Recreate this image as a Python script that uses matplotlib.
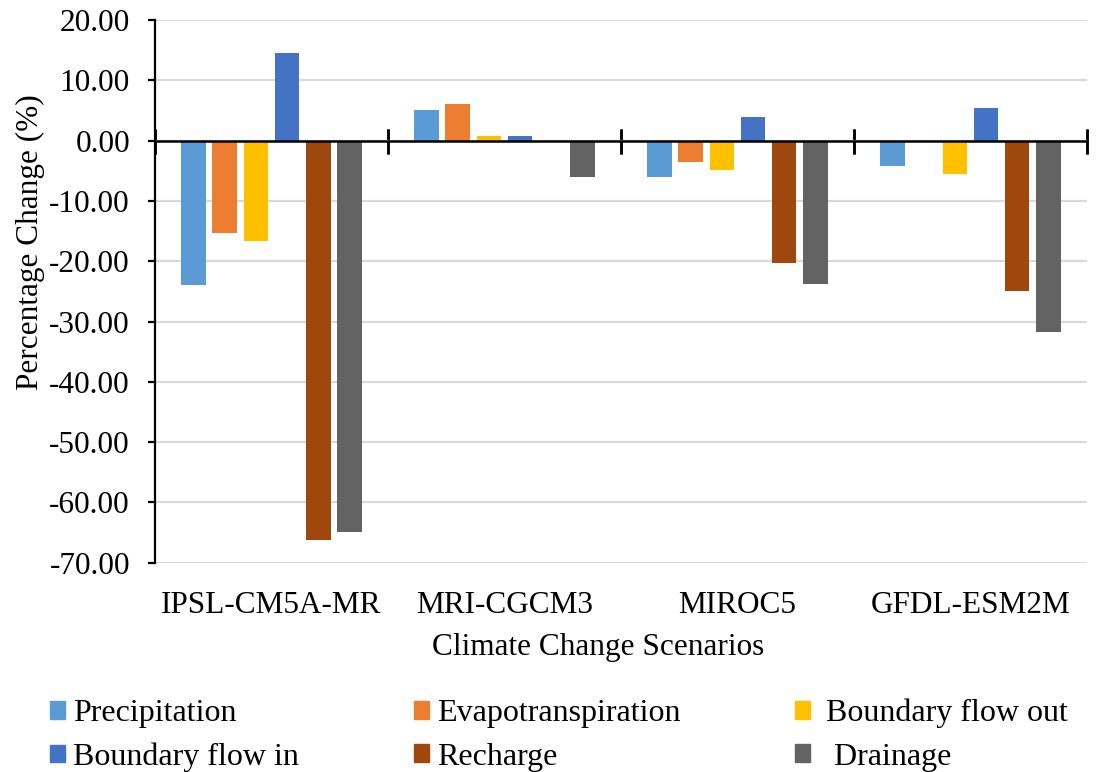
import numpy as np
import matplotlib.pyplot as plt
from matplotlib.patches import Patch
from matplotlib.ticker import FormatStrFormatter

plt.rcParams['font.family'] = ['Liberation Serif', 'DejaVu Serif']
plt.rcParams['axes.unicode_minus'] = False

scenarios = ["IPSL-CM5A-MR", "MRI-CGCM3", "MIROC5", "GFDL-ESM2M"]
series = ["Precipitation", "Evapotranspiration", " Boundary flow out",
          "Boundary flow in", "Recharge", "  Drainage"]
colors = ["#5B9BD5", "#ED7D31", "#FFC000", "#4472C4", "#9E480E", "#636363"]

# percentage change per scenario, one list per component
precipitation = [-23.9, 5.1, -6.1, -4.2]
evapotranspiration = [-15.3, 6.0, -3.5, -0.1]
boundary_out = [-16.6, 0.7, -4.8, -5.5]
boundary_in = [14.6, 0.8, 4.0, 5.4]
recharge = [-66.3, 0.0, -20.3, -25.0]
drainage = [-64.9, -6.0, -23.8, -31.8]
values = [precipitation, evapotranspiration, boundary_out,
          boundary_in, recharge, drainage]

ymin, ymax = -70, 20
fs = 22.5

fig = plt.figure(figsize=(10.99, 7.72), dpi=100)
ax = fig.add_axes([0.141, 0.271, 0.848, 0.703])

x = np.arange(len(scenarios))
step = 0.134
width = 0.105
for i, (vals, c) in enumerate(zip(values, colors)):
    ax.bar(x + (i - 2.5) * step, vals, width, color=c, label=series[i], zorder=3)

ax.set_ylim(ymin, ymax)
ax.set_xlim(-0.5, len(scenarios) - 0.5)
ax.set_yticks(np.arange(ymin, ymax + 1, 10))
ax.yaxis.set_major_formatter(FormatStrFormatter('%.2f'))
ax.grid(axis='y', color='#d9d9d9', linewidth=1.6, zorder=0)
ax.set_axisbelow(True)

for s in ['top', 'right', 'bottom']:
    ax.spines[s].set_visible(False)
ax.spines['left'].set_linewidth(1.6)
ax.tick_params(axis='y', labelsize=fs, length=5, width=1.6, direction='out', pad=13)

# category names sit under the plot, no tick marks there
ax.set_xticks(x)
ax.set_xticklabels(scenarios)
ax.tick_params(axis='x', length=0, labelsize=fs, pad=20)

# zero line, plus tick marks at the category boundaries
ax.axhline(0, color='black', linewidth=1.8, zorder=4)
zero_pos = (0 - ymin) / (ymax - ymin)
zax = ax.secondary_xaxis(zero_pos)
for s in zax.spines.values():
    s.set_visible(False)
zax.set_xticks(np.arange(len(scenarios) + 1) - 0.5)
zax.set_xticklabels([])
zax.tick_params(axis='x', which='both', top=True, bottom=True,
                direction='inout', length=18, width=1.8, color='black')

ax.set_ylabel("Percentage Change (%)", fontsize=fs, labelpad=3)
ax.yaxis.label.set_y(0.59)
ax.set_xlabel("Climate Change Scenarios", fontsize=fs, labelpad=10)
ax.xaxis.label.set_x(0.476)

# legend filled column-wise, so reorder to get rows as drawn
handles = [Patch(color=c) for c in colors]
order = [0, 3, 1, 4, 2, 5]
fig.legend([handles[k] for k in order], [series[k] for k in order],
           loc='upper left', bbox_to_anchor=(0.0455, 0.0, 0.926, 0.095),
           ncol=3, mode='expand', frameon=False, fontsize=23,
           handlelength=0.47, handleheight=0.47, handletextpad=0.25,
           labelspacing=0.45, borderpad=0, borderaxespad=0)

fig.savefig("out.png", dpi=100)
